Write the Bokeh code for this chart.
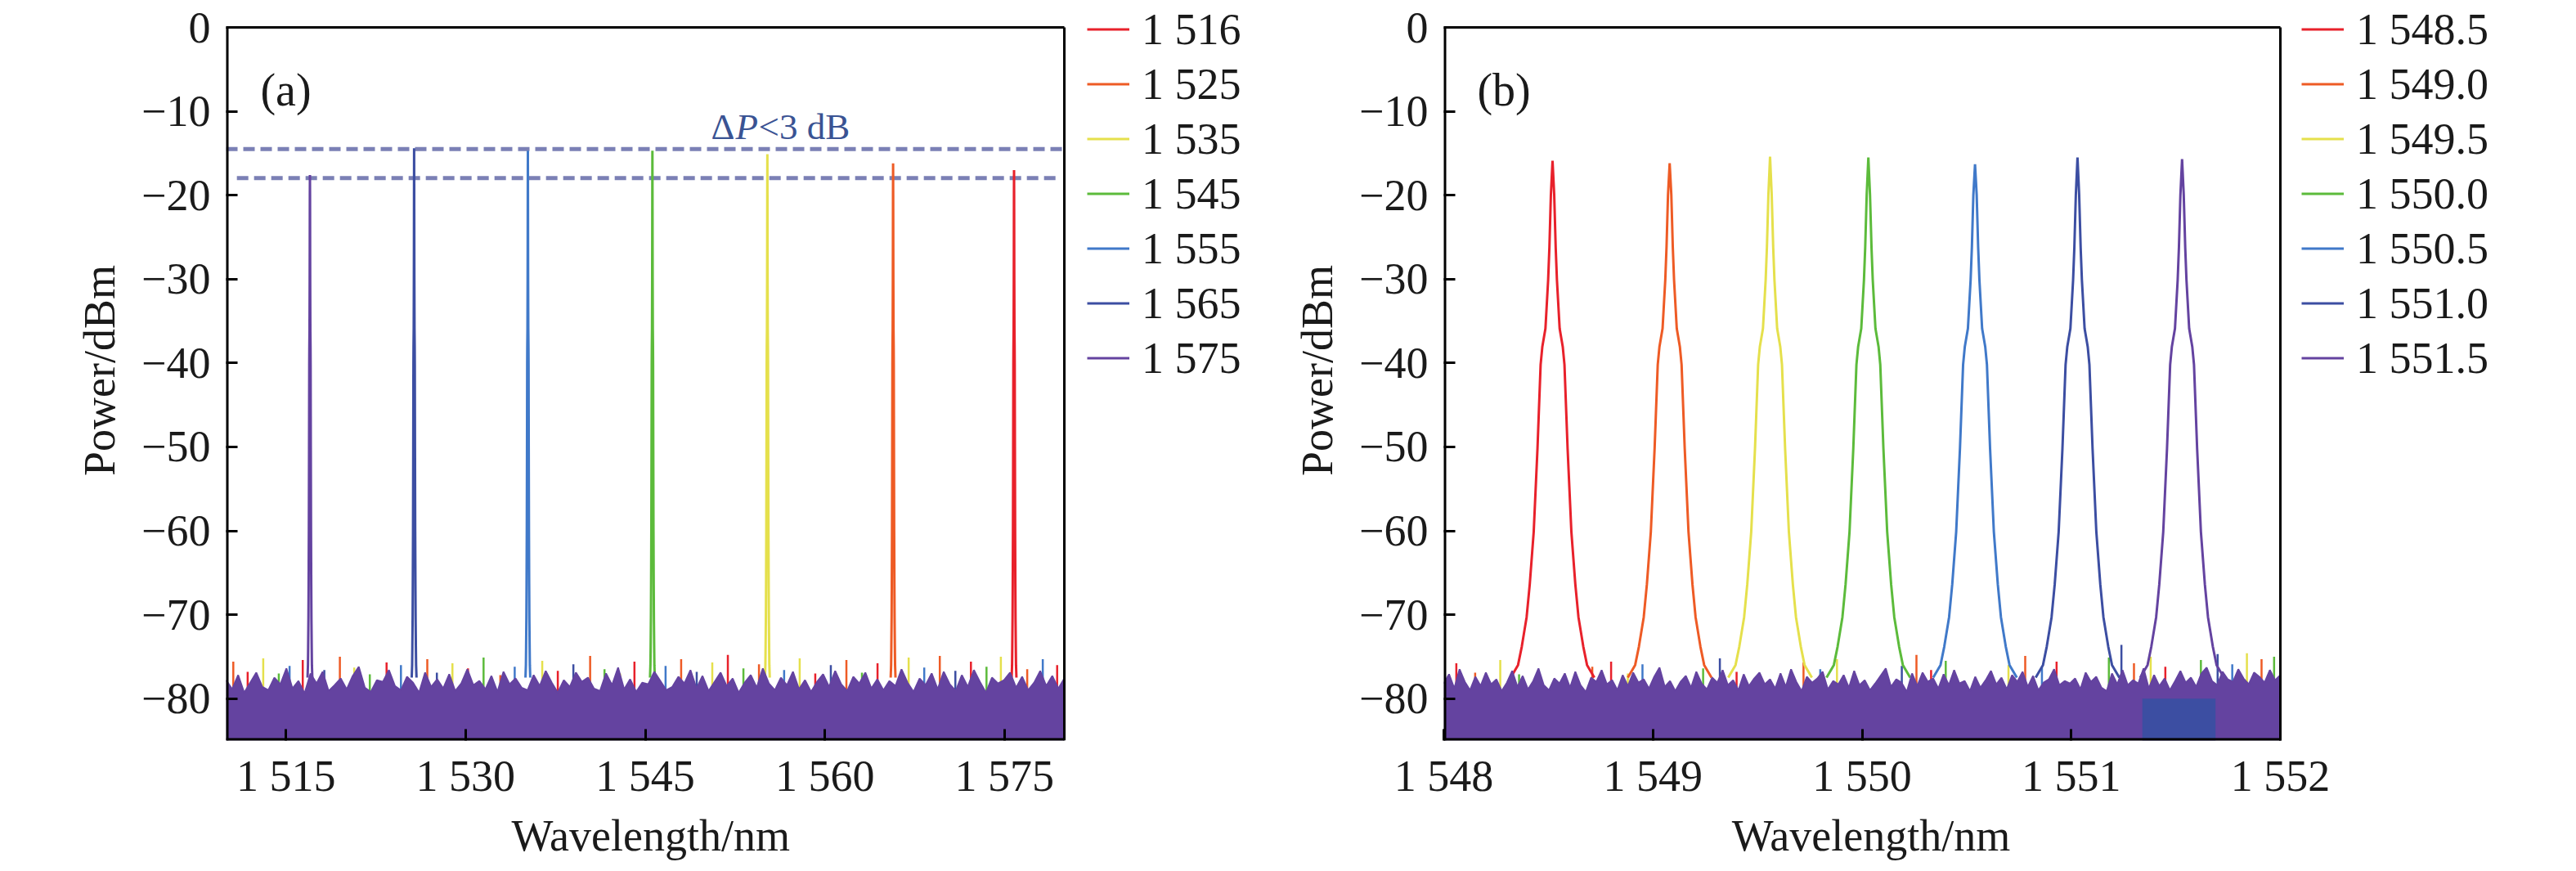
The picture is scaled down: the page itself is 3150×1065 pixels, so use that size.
import numpy as np

from bokeh.embed import file_html
from bokeh.layouts import row
from bokeh.models import ColumnDataSource, FixedTicker, Label, Legend, LegendItem, Range1d
from bokeh.plotting import figure
from bokeh.resources import INLINE

FONT = "Liberation Serif"
INK = "#1a1a1a"

# series colours, in legend order
colors = ["#e8212b", "#ee5b25", "#e5e04c", "#5cbb3b", "#4079c9", "#3c4ea2", "#6443a0"]

# panel (a): legend labels, peak centre (nm) and peak power (dBm)
a_labels = ["1 516", "1 525", "1 535", "1 545", "1 555", "1 565", "1 575"]
a_centers = [1575.8, 1565.7, 1555.2, 1545.6, 1535.2, 1525.7, 1517.0]
a_peaks = [-17.0, -16.2, -15.1, -14.7, -14.7, -14.4, -17.6]

# panel (b)
b_labels = ["1 548.5", "1 549.0", "1 549.5", "1 550.0", "1 550.5", "1 551.0", "1 551.5"]
b_centers = [1548.52, 1549.08, 1549.56, 1550.03, 1550.54, 1551.03, 1551.53]
b_peaks = [-15.9, -16.2, -15.4, -15.5, -16.3, -15.5, -15.7]

# peak line shape: power level (dBm) and half width (nm) of the skirt
prof_db = [-77.5, -76.0, -73.8, -70.3, -66.4, -60.1, -50.2, -40.2, -38.1, -35.9, -30.1, -26.2, -20.0]
prof_hw = [0.200, 0.165, 0.147, 0.124, 0.109, 0.090, 0.072, 0.057, 0.049, 0.034, 0.021, 0.015, 0.008]

a_ticks = [1515, 1530, 1545, 1560, 1575]
a_tick_text = ["1 515", "1 530", "1 545", "1 560", "1 575"]
b_ticks = [1548, 1549, 1550, 1551, 1552]
b_tick_text = ["1 548", "1 549", "1 550", "1 551", "1 552"]
y_ticks = [0, -10, -20, -30, -40, -50, -60, -70, -80]
y_tick_text = ["0", "\u221210", "\u221220", "\u221230", "\u221240", "\u221250", "\u221260", "\u221270", "\u221280"]

# the two dashed power limits in (a)
a_dash_x0 = [1510.0, 1510.9]
a_dash_x1 = [1580.0, 1579.6]
a_dash_y = [-14.5, -17.95]

# top of the purple noise floor, read every 0.5 nm across (a)
a_noise_top = [
    -77.8, -78.9, -77.2, -79.3, -78.1, -76.9, -78.6, -79.0, -77.5, -78.3,
    -76.4, -78.8, -77.9, -79.4, -77.0, -78.2, -76.8, -79.1, -78.4, -77.6,
    -78.9, -77.3, -76.2, -78.7, -79.2, -77.8, -78.0, -76.6, -78.5, -79.0,
    -77.4, -78.1, -79.3, -76.9, -78.6, -77.7, -78.8, -77.1, -79.1, -78.2,
    -76.5, -78.4, -77.9, -78.9, -77.3, -79.2, -76.8, -78.3, -77.6, -78.7,
    -79.0, -77.2, -78.5, -76.7, -78.1, -79.3, -77.8, -78.6, -76.9, -78.0,
    -77.5, -78.8, -79.1, -77.0, -78.4, -76.3, -78.9, -77.7, -79.2, -78.1,
    -78.3, -76.8, -77.9, -79.0, -78.6, -77.4, -78.2, -76.6, -78.8, -77.3,
    -79.1, -78.0, -76.9, -78.5, -77.6, -79.3, -78.1, -77.2, -78.7, -76.4,
    -78.2, -79.0, -77.5, -78.4, -76.8, -78.9, -77.8, -79.2, -78.0, -77.1,
    -78.6, -76.7, -78.3, -79.1, -77.4, -78.2, -76.9, -78.8, -77.7, -79.0,
    -77.9, -78.5, -76.5, -78.1, -79.2, -77.6, -78.4, -77.0, -78.9, -76.8,
    -78.3, -79.1, -77.2, -78.6, -76.6, -78.0, -79.3, -77.5, -78.2, -77.8,
    -76.9, -78.7, -77.4, -79.0, -78.1, -76.7, -78.5, -77.3, -78.8, -77.6,
]

# top of the purple noise floor, read every 0.025 nm across (b)
b_noise_top = [
    -78.2, -77.1, -78.8, -76.5, -78.0, -79.0, -77.4, -78.5, -76.9, -78.3,
    -77.7, -79.1, -78.1, -76.7, -78.6, -77.3, -78.9, -77.9, -76.4, -78.4,
    -79.0, -77.6, -78.2, -77.0, -78.7, -76.8, -78.4, -79.2, -77.5, -78.0,
    -76.6, -78.3, -77.8, -79.0, -77.2, -78.5, -76.9, -78.1, -77.7, -78.8,
    -77.4, -76.3, -78.6, -77.9, -79.1, -78.0, -77.3, -78.7, -76.8, -78.2,
    -78.9, -77.5, -78.1, -76.6, -78.4, -77.8, -79.0, -77.1, -78.5, -77.6,
    -76.9, -78.3, -77.7, -78.8, -77.0, -78.6, -76.5, -78.0, -79.1, -77.4,
    -78.1, -77.6, -76.8, -78.9, -77.9, -78.3, -77.2, -78.7, -76.7, -78.4,
    -77.8, -79.0, -78.2, -77.3, -76.4, -78.6, -77.7, -78.1, -79.2, -77.0,
    -78.5, -76.9, -78.0, -77.6, -78.8, -77.1, -78.4, -76.6, -78.2, -77.9,
    -79.1, -77.4, -78.7, -77.8, -76.7, -78.3, -77.5, -78.9, -77.2, -78.0,
    -76.8, -78.6, -77.3, -79.0, -78.1, -77.7, -76.5, -78.4, -77.9, -78.2,
    -77.6, -78.9, -76.9, -78.0, -77.4, -78.7, -79.1, -77.0, -78.3, -76.6,
    -78.4, -77.8, -78.2, -76.4, -78.8, -77.2, -78.5, -77.6, -79.0, -77.9,
    -76.7, -78.1, -77.5, -78.6, -77.0, -76.3, -77.9, -78.4, -76.8, -77.7,
    -78.0, -76.5, -77.6, -78.3, -76.9, -77.4, -78.1, -76.6, -77.8, -77.2,
]

# noise spikes of the other series that poke out above the purple floor
a_spike_x = [1510.6, 1511.8, 1513.1, 1514.4, 1515.3, 1516.4, 1518.2, 1519.5, 1520.7, 1522.0,
             1523.4, 1524.6, 1526.8, 1527.6, 1528.9, 1530.2, 1531.5, 1532.9, 1534.1, 1536.4,
             1537.7, 1539.0, 1540.4, 1541.6, 1542.9, 1544.1, 1546.7, 1548.0, 1549.3, 1550.6,
             1551.9, 1553.2, 1554.5, 1556.6, 1557.9, 1559.2, 1560.5, 1561.8, 1563.1, 1564.4,
             1567.0, 1568.3, 1569.6, 1570.9, 1572.2, 1573.5, 1574.7, 1576.9, 1578.2, 1579.4]
a_spike_top = [-75.6, -76.8, -75.2, -77.0, -76.1, -75.4, -76.6, -75.0, -76.3, -77.1,
               -75.7, -76.0, -75.3, -76.9, -75.8, -76.4, -75.1, -77.2, -76.2, -75.5,
               -76.7, -75.9, -74.9, -76.5, -77.0, -75.6, -76.1, -75.3, -76.8, -75.7,
               -74.8, -76.4, -75.9, -76.6, -75.2, -77.0, -76.0, -75.4, -76.9, -75.8,
               -75.1, -76.3, -74.9, -76.7, -75.6, -76.2, -75.0, -76.5, -75.3, -76.0]
a_spike_series = [1, 0, 2, 3, 4, 0, 5, 1, 2, 3, 0, 4, 1, 5, 2, 0, 3, 1, 4, 2, 0, 5, 1, 3, 2,
                  0, 4, 1, 5, 2, 0, 3, 1, 4, 2, 0, 5, 1, 3, 0, 2, 4, 1, 5, 0, 3, 2, 1, 4, 0]

b_spike_x = [1548.06, 1548.15, 1548.27, 1548.36, 1548.71, 1548.80, 1548.88, 1548.95, 1549.24,
             1549.32, 1549.40, 1549.72, 1549.80, 1549.88, 1550.19, 1550.26, 1550.33, 1550.40,
             1550.70, 1550.78, 1550.86, 1550.93, 1551.18, 1551.24, 1551.30, 1551.38, 1551.45,
             1551.62, 1551.70, 1551.77, 1551.84, 1551.91, 1551.97]
b_spike_top = [-75.8, -76.9, -75.4, -77.1, -76.2, -75.6, -77.0, -75.9, -76.4, -75.2, -76.8,
               -75.7, -76.5, -75.3, -76.1, -74.8, -76.6, -75.5, -76.0, -74.9, -76.3, -75.6,
               -75.1, -73.6, -75.8, -75.0, -76.2, -75.4, -74.7, -75.9, -74.6, -75.3, -75.0]
b_spike_series = [0, 1, 2, 3, 1, 0, 2, 4, 3, 5, 0, 1, 4, 2, 5, 1, 0, 3, 2, 1, 4, 0, 3, 5, 1,
                  2, 0, 3, 5, 4, 2, 1, 3]

# under the 1 551.5 nm line the 1 551.0 series fills the floor instead of purple
b_patch_left, b_patch_right, b_patch_top = 1551.34, 1551.69, -80.0

# pixel layout: the frame runs from the top of the page, the drawn box starts lower
FRAME_H = 905
BOX_TOP = 33            # px from frame top down to the 0 dBm edge
PX_PER_DB = (FRAME_H - BOX_TOP) / 85.0
Y_TOP = BOX_TOP / PX_PER_DB

# the axis title is centred on the whole frame (box + legend strip); trailing
# fixed-width spaces pull the visible words back over the box
EM, NB = "\u2003", "\u00a0"
XLABEL_A = "Wavelength/nm" + EM * 4 + NB
XLABEL_B = "Wavelength/nm" + EM * 6


def peak_xy(center, top):
    levels = [d for d in prof_db if d < top]
    widths = prof_hw[:len(levels)]
    xs = [center - w for w in widths] + [center] + [center + w for w in reversed(widths)]
    ys = levels + [top] + list(reversed(levels))
    return xs, ys


def base_figure(x0, x1, px_per_nm, ticks, tick_text, border_left, frame_w, xlabel):
    # the frame also covers the legend strip to the right; the black box is drawn by hand
    p = figure(
        x_range=Range1d(x0, x0 + frame_w / px_per_nm), y_range=Range1d(-85, Y_TOP),
        frame_width=frame_w, frame_height=FRAME_H,
        min_border_left=border_left, min_border_right=0,
        min_border_top=0, min_border_bottom=144,
        output_backend="svg", toolbar_location=None,
    )
    p.xgrid.visible = False
    p.ygrid.visible = False
    p.outline_line_color = None

    p.xaxis.ticker = FixedTicker(ticks=ticks)
    p.xaxis.major_label_overrides = dict(zip(ticks, tick_text))
    p.xaxis.bounds = (x0, x1)
    p.yaxis.ticker = FixedTicker(ticks=y_ticks)
    p.yaxis.major_label_overrides = dict(zip(y_ticks, y_tick_text))
    p.yaxis.bounds = (-85, 0)
    p.xaxis.axis_label = xlabel
    p.yaxis.axis_label = "Power/dBm"

    for ax in (p.xaxis, p.yaxis):
        ax.axis_line_color = None
        ax.major_tick_in = 14
        ax.major_tick_out = 0
        ax.major_tick_line_width = 3
        ax.major_tick_line_color = "black"
        ax.minor_tick_line_color = None
        ax.major_label_text_font = FONT
        ax.major_label_text_font_size = "54px"
        ax.major_label_text_color = INK
        ax.axis_label_text_font = FONT
        ax.axis_label_text_font_size = "54px"
        ax.axis_label_text_font_style = "normal"
        ax.axis_label_text_color = INK
    p.xaxis.major_label_standoff = 13
    p.xaxis.axis_label_standoff = 10
    p.yaxis.major_label_standoff = 19
    p.yaxis.axis_label_standoff = 18
    return p


def draw_box(p, x0, x1):
    # left and bottom edges sit on the frame edge and get half clipped, so they are drawn wider
    p.segment(x0=[x0, x0], y0=[-85, -85], x1=[x1, x0], y1=[-85, 0], line_color="black", line_width=6)
    p.segment(x0=[x0, x1], y0=[0, -85], x1=[x1, x1], y1=[0, 0], line_color="black", line_width=3)


def draw_spectra(p, labels, centers, peaks, noise_x, noise_top, spike_x, spike_top, spike_series):
    spikes = ColumnDataSource(dict(
        x=spike_x, top=spike_top, bottom=[-80.0] * len(spike_x),
        color=[colors[i] for i in spike_series],
    ))
    p.segment(x0="x", y0="bottom", x1="x", y1="top", color="color", line_width=2.5, source=spikes)

    items = []
    for lab, c, top, col in zip(labels, centers, peaks, colors):
        xs, ys = peak_xy(c, top)
        r = p.line(xs, ys, line_color=col, line_width=3)
        items.append(LegendItem(label=lab, renderers=[r]))

    p.varea(x=noise_x, y1=[-85.0] * len(noise_x), y2=noise_top, fill_color=colors[6])
    p.line(noise_x, noise_top, line_color=colors[6], line_width=2)
    return items


def add_legend(p, items, x_off):
    legend = Legend(
        items=items, location=(x_off, 434),
        padding=0, margin=0, spacing=0,
        glyph_width=52, glyph_height=67, label_height=67, label_standoff=15,
        label_text_font=FONT, label_text_font_size="54px", label_text_color=INK,
        border_line_alpha=0, background_fill_alpha=0,
    )
    p.add_layout(legend, "center")


# ---- panel (a)
pa = base_figure(1510, 1580, 1025 / 70.0, a_ticks, a_tick_text, 276, 1268, XLABEL_A)
pa.segment(x0=a_dash_x0, y0=a_dash_y, x1=a_dash_x1, y1=a_dash_y,
           line_color="#7b80b5", line_width=5, line_dash="14 7")
items_a = draw_spectra(pa, a_labels, a_centers, a_peaks,
                       np.linspace(1510, 1580, len(a_noise_top)), a_noise_top,
                       a_spike_x, a_spike_top, a_spike_series)
draw_box(pa, 1510, 1580)
add_legend(pa, items_a, 1053)
pa.add_layout(Label(x=1512.86, y=-7.5, text="(a)", text_font=FONT, text_font_size="56px",
                    text_color=INK, text_baseline="alphabetic"))
dp_color = "#3a5393"
pa.add_layout(Label(x=1550.5, y=-11.8, text="\u0394", text_font=FONT, text_font_size="45px",
                    text_color=dp_color, text_baseline="alphabetic"))
pa.add_layout(Label(x=1550.5, y=-11.8, x_offset=30, text="P", text_font=FONT, text_font_size="45px",
                    text_font_style="italic", text_color=dp_color, text_baseline="alphabetic"))
pa.add_layout(Label(x=1550.5, y=-11.8, x_offset=58, text="<3 dB", text_font=FONT, text_font_size="45px",
                    text_color=dp_color, text_baseline="alphabetic"))

# ---- panel (b)
pb = base_figure(1548, 1552, 1023 / 4.0, b_ticks, b_tick_text, 221, 1369, XLABEL_B)
items_b = draw_spectra(pb, b_labels, b_centers, b_peaks,
                       np.linspace(1548, 1552, len(b_noise_top)), b_noise_top,
                       b_spike_x, b_spike_top, b_spike_series)
pb.quad(left=[b_patch_left], right=[b_patch_right], bottom=[-85.0], top=[b_patch_top],
        fill_color=colors[5], line_color=None)
draw_box(pb, 1548, 1552)
add_legend(pb, items_b, 1049)
pb.add_layout(Label(x=1548.16, y=-7.5, text="(b)", text_font=FONT, text_font_size="56px",
                    text_color=INK, text_baseline="alphabetic"))

layout = row(pa, pb)
open("out.html", "w").write(file_html(layout, INLINE))
